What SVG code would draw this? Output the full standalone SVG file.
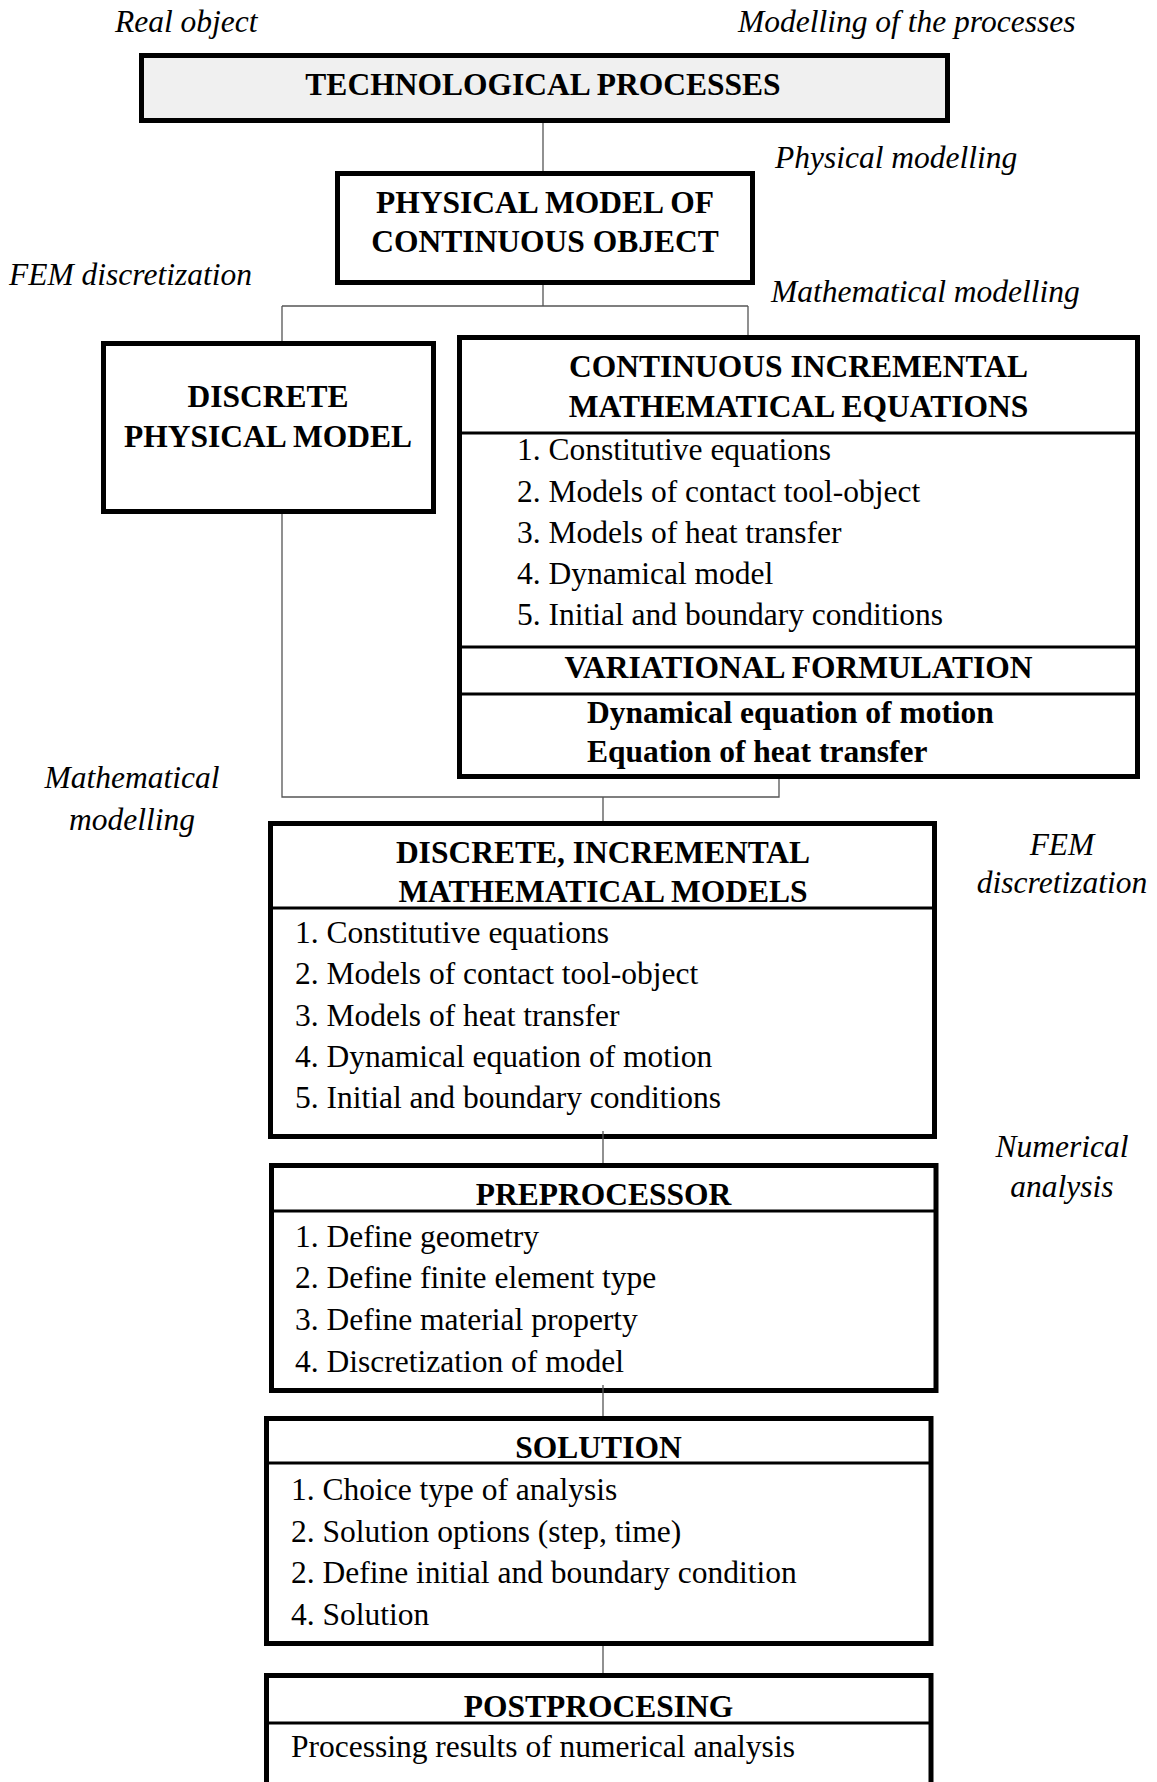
<svg xmlns="http://www.w3.org/2000/svg" width="1157" height="1782" viewBox="0 0 1157 1782">
<style>
text { font-family: "Liberation Serif", "Times New Roman", serif; font-size: 31.5px; fill: #000; }
.b { font-weight: bold; text-anchor: middle; }
.i { font-style: italic; }
.c { text-anchor: middle; }
.box { fill: #fff; stroke: #000; stroke-width: 5; }
.gray { fill: #f0f0f0; }
.div { stroke: #000; stroke-width: 3; }
.conn { fill: none; stroke: #555; stroke-width: 1.3; }
</style>
<rect width="1157" height="1782" fill="#fff"/>

<g id="labels">
<text class="i" x="115" y="32">Real object</text>
<text class="i" x="738" y="32">Modelling of the processes</text>
<text class="i" x="775" y="168">Physical modelling</text>
<text class="i" x="9" y="285">FEM discretization</text>
<text class="i" x="771" y="302">Mathematical modelling</text>
<text class="i c" x="132" y="788">Mathematical</text>
<text class="i c" x="132" y="830">modelling</text>
<text class="i c" x="1062" y="855">FEM</text>
<text class="i c" x="1062" y="893">discretization</text>
<text class="i c" x="1062" y="1157">Numerical</text>
<text class="i c" x="1062" y="1197">analysis</text>
</g>

<g id="technological-processes">
<rect class="box gray" x="141.5" y="55.5" width="806" height="65"/>
<text class="b" x="543" y="95">TECHNOLOGICAL PROCESSES</text>
</g>

<g id="physical-model">
<rect class="box" x="337.5" y="173.5" width="415" height="109"/>
<text class="b" x="545" y="213">PHYSICAL MODEL OF</text>
<text class="b" x="545" y="252">CONTINUOUS OBJECT</text>
</g>

<g id="discrete-physical-model">
<rect class="box" x="103.5" y="343.5" width="330" height="168"/>
<text class="b" x="268" y="407">DISCRETE</text>
<text class="b" x="268" y="447">PHYSICAL MODEL</text>
</g>

<g id="continuous-equations">
<rect class="box" x="459.5" y="337.5" width="678" height="439"/>
<text class="b" x="798.5" y="377">CONTINUOUS INCREMENTAL</text>
<text class="b" x="798.5" y="417">MATHEMATICAL EQUATIONS</text>
<line class="div" x1="459.5" y1="433" x2="1137.5" y2="433"/>
<text x="517" y="460">1. Constitutive equations</text>
<text x="517" y="502">2. Models of contact tool-object</text>
<text x="517" y="543">3. Models of heat transfer</text>
<text x="517" y="584">4. Dynamical model</text>
<text x="517" y="625">5. Initial and boundary conditions</text>
<line class="div" x1="459.5" y1="647" x2="1137.5" y2="647"/>
<text class="b" x="798.5" y="678">VARIATIONAL FORMULATION</text>
<line class="div" x1="459.5" y1="694" x2="1137.5" y2="694"/>
<text x="587" y="723" font-weight="bold">Dynamical equation of motion</text>
<text x="587" y="762" font-weight="bold">Equation of heat transfer</text>
</g>

<g id="discrete-models">
<rect class="box" x="270.5" y="823.5" width="664" height="313"/>
<text class="b" x="603" y="863">DISCRETE, INCREMENTAL</text>
<text class="b" x="603" y="902">MATHEMATICAL MODELS</text>
<line class="div" x1="270.5" y1="908" x2="934.5" y2="908"/>
<text x="295" y="943">1. Constitutive equations</text>
<text x="295" y="984">2. Models of contact tool-object</text>
<text x="295" y="1026">3. Models of heat transfer</text>
<text x="295" y="1067">4. Dynamical equation of motion</text>
<text x="295" y="1108">5. Initial and boundary conditions</text>
</g>

<g id="preprocessor">
<rect class="box" x="271.5" y="1165.5" width="664.5" height="225"/>
<text class="b" x="603.5" y="1205">PREPROCESSOR</text>
<line class="div" x1="271.5" y1="1211" x2="936" y2="1211"/>
<text x="295" y="1247">1. Define geometry</text>
<text x="295" y="1288">2. Define finite element type</text>
<text x="295" y="1330">3. Define material property</text>
<text x="295" y="1372">4. Discretization of model</text>
</g>

<g id="solution">
<rect class="box" x="266.5" y="1418.5" width="664.5" height="225"/>
<text class="b" x="598.5" y="1458">SOLUTION</text>
<line class="div" x1="266.5" y1="1463" x2="931" y2="1463"/>
<text x="291" y="1500">1. Choice type of analysis</text>
<text x="291" y="1542">2. Solution options (step, time)</text>
<text x="291" y="1583">2. Define initial and boundary condition</text>
<text x="291" y="1625">4. Solution</text>
</g>

<g id="postprocessing">
<rect class="box" x="266.5" y="1675.5" width="664.5" height="200"/>
<text class="b" x="598.5" y="1717">POSTPROCESING</text>
<line class="div" x1="266.5" y1="1723" x2="931" y2="1723"/>
<text x="291" y="1757">Processing results of numerical analysis</text>
</g>

<g id="connectors">
<path class="conn" d="M543 123 V171"/>
<path class="conn" d="M543 285 V306 M282 306 H748 M282 306 V341 M748 306 V335"/>
<path class="conn" d="M282 514 V797 H779 V779 M603 797 V821"/>
<path class="conn" d="M603 1131 V1163"/>
<path class="conn" d="M603 1385 V1416"/>
<path class="conn" d="M603 1646 V1673"/>
</g>
</svg>
